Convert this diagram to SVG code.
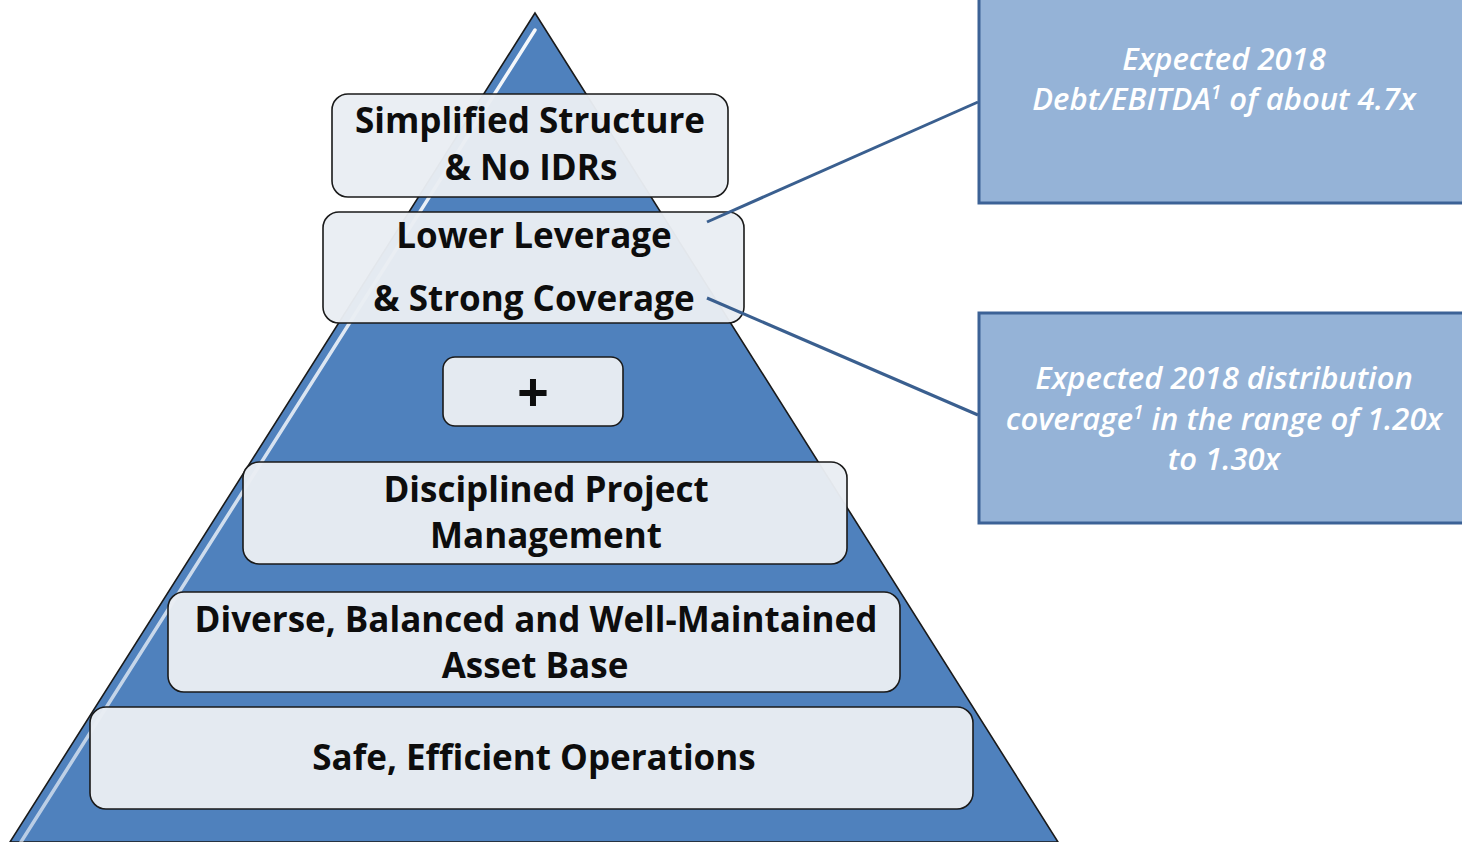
<svg xmlns="http://www.w3.org/2000/svg" width="1462" height="842" viewBox="0 0 1462 842">
<style>
.box{fill:#e9edf3;fill-opacity:0.97;stroke:#1a1a1a;stroke-width:1.6}
.t{font-family:"Open Sans","Liberation Sans",sans-serif;font-weight:700;fill:#0d0d0d;text-anchor:middle}
.callout{fill:#95b3d7;stroke:#3c6296;stroke-width:3}
.ct{font-family:"Open Sans","Liberation Sans",sans-serif;font-style:italic;font-weight:600;fill:#ffffff;text-anchor:middle;font-size:31px}
.conn{stroke:#3a5f8f;stroke-width:3;fill:none}
</style>
<defs>
<linearGradient id="hl" x1="0" y1="0" x2="0" y2="1">
<stop offset="0" stop-color="#ffffff" stop-opacity="0.95"/>
<stop offset="1" stop-color="#ffffff" stop-opacity="0.6"/>
</linearGradient>
</defs>
<rect width="1462" height="842" fill="#ffffff"/>
<g id="pyramid">
<polygon points="535,13 10,842 1058,842" fill="#4f81bd" stroke="#1a1a1a" stroke-width="1.6"/>
<line x1="535" y1="30" x2="21" y2="842" stroke="url(#hl)" stroke-width="3.5" stroke-linecap="round"/>
</g>
<g id="callout1">
<rect class="callout" x="979" y="-4" width="490" height="207"/>
<text class="ct" x="1224" y="70">Expected 2018</text>
<text class="ct" x="1224" y="110">Debt/EBITDA<tspan font-size="19" dy="-11">1</tspan><tspan dy="11"> of about 4.7x</tspan></text>
</g>
<g id="callout2">
<rect class="callout" x="979" y="313" width="490" height="210"/>
<text class="ct" x="1224" y="389">Expected 2018 distribution</text>
<text class="ct" x="1224" y="430">coverage<tspan font-size="19" dy="-11">1</tspan><tspan dy="11"> in the range of 1.20x</tspan></text>
<text class="ct" x="1224" y="470">to 1.30x</text>
</g>
<g id="box-simplified">
<rect class="box" x="332" y="94" width="396" height="103" rx="16"/>
<text class="t" x="530" y="133" font-size="35">Simplified Structure</text>
<text class="t" x="531" y="180" font-size="35">&amp; No IDRs</text>
</g>
<g id="box-leverage">
<rect class="box" x="323" y="212" width="421" height="111" rx="16"/>
<text class="t" x="534" y="248" font-size="35">Lower Leverage</text>
<text class="t" x="534" y="311" font-size="35">&amp; Strong Coverage</text>
</g>
<g id="box-plus">
<rect class="box" x="443" y="357" width="180" height="69" rx="12"/>
<text class="t" x="533" y="412" font-size="56" font-weight="600">+</text>
</g>
<g id="box-disciplined">
<rect class="box" x="243" y="462" width="604" height="102" rx="16"/>
<text class="t" x="546" y="502" font-size="35">Disciplined Project</text>
<text class="t" x="546" y="548" font-size="35">Management</text>
</g>
<g id="box-diverse">
<rect class="box" x="168" y="592" width="732" height="100" rx="16"/>
<text class="t" x="536" y="632" font-size="35">Diverse, Balanced and Well-Maintained</text>
<text class="t" x="535" y="678" font-size="35">Asset Base</text>
</g>
<g id="box-safe">
<rect class="box" x="90" y="707" width="883" height="102" rx="16"/>
<text class="t" x="534" y="770" font-size="35">Safe, Efficient Operations</text>
</g>
<g id="connectors">
<line class="conn" x1="707" y1="222" x2="978" y2="102"/>
<line class="conn" x1="707" y1="298" x2="978" y2="415"/>
</g>
</svg>
